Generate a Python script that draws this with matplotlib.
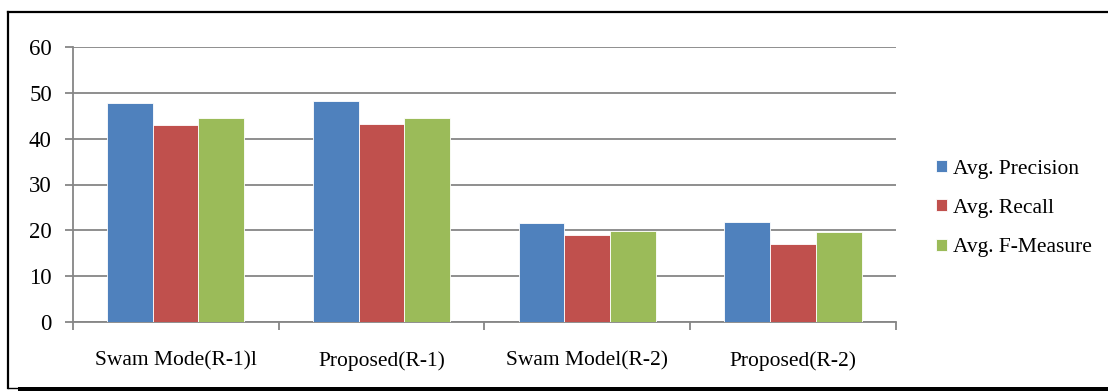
import numpy as np
import matplotlib
matplotlib.use("Agg")
import matplotlib.pyplot as plt
from matplotlib.lines import Line2D
from matplotlib.patches import Rectangle

## data
categories = ["Swam Mode(R-1)l", "Proposed(R-1)", "Swam Model(R-2)", "Proposed(R-2)"]
series_names = ["Avg. Precision", "Avg. Recall", "Avg. F-Measure"]
precision = [47.7, 48.2, 21.6, 21.8]
recall = [43.0, 43.1, 18.9, 17.1]
f_measure = [44.6, 44.6, 19.8, 19.6]

colors = ["#4F81BD", "#C0504D", "#9BBB59"]
grid_col = "#868686"

plt.rcParams["font.family"] = ["Liberation Serif", "DejaVu Serif"]

W, H = 1108, 391
fig = plt.figure(figsize=(W / 100, H / 100), dpi=100)
ax = fig.add_axes([72.7 / W, (H - 322) / H, (896 - 72.7) / W, (322 - 47) / H])

x = np.arange(len(categories))
bw = 1 / 4.5
for i, (vals, name) in enumerate(zip([precision, recall, f_measure], series_names)):
    ax.bar(x + (i - 1) * bw, vals, width=bw, color=colors[i], label=name,
           edgecolor="white", linewidth=0.6, zorder=3)

ax.set_xlim(-0.5, len(categories) - 0.5)
ax.set_ylim(0, 60)
ax.set_yticks(np.arange(0, 61, 10))
ax.yaxis.grid(True, color=grid_col, linewidth=1.3, zorder=0)
ax.set_axisbelow(True)

# category labels centred, tick marks on category boundaries
ax.set_xticks(x)
ax.set_xticklabels(categories, fontsize=15.5)
ax.tick_params(axis="x", length=0, pad=21)
ax.set_xticks(np.arange(-0.5, len(categories), 1), minor=True)
ax.tick_params(axis="x", which="minor", length=6, width=1.3, color=grid_col, direction="out")
ax.tick_params(axis="y", length=6, width=1.3, color=grid_col, labelsize=16.5, pad=9)

for side in ["top", "right"]:
    ax.spines[side].set_visible(False)
for side in ["left", "bottom"]:
    ax.spines[side].set_color(grid_col)
    ax.spines[side].set_linewidth(1.3)

leg = fig.legend(loc="center left", bbox_to_anchor=(917 / W, 1 - 208.5 / H), frameon=False,
                 fontsize=15.5, handlelength=0.5, handleheight=0.5, handletextpad=0.25,
                 labelspacing=0.95)

# outer frame with heavy bottom edge
def fx(px):
    return px / W

def fy(py):
    return 1 - py / H

fig.add_artist(Line2D([fx(8), fx(1108)], [fy(12), fy(12)], color="black", linewidth=1.6))
fig.add_artist(Line2D([fx(8), fx(8)], [fy(12), fy(388)], color="black", linewidth=1.6))
fig.add_artist(Line2D([fx(8), fx(1108)], [fy(388), fy(388)], color="black", linewidth=1.0))
fig.add_artist(Rectangle((fx(18), 0), fx(1108) - fx(18), 4 / H, transform=fig.transFigure,
                         color="black", linewidth=0))

fig.savefig("out.png", dpi=100)
